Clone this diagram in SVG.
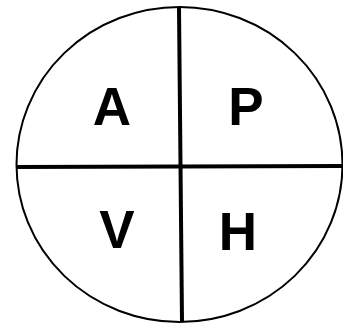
<svg xmlns="http://www.w3.org/2000/svg" width="343" height="326" viewBox="0 0 343 326">
<style>
.ring{fill:none;stroke:#000;stroke-width:2}
.div{stroke:#000;stroke-width:4;fill:none}
.lbl{font-family:"Liberation Sans",Arial,sans-serif;font-weight:bold;font-size:53px;fill:#000;text-anchor:middle}
</style>
<rect width="343" height="326" fill="#fff"/>
<g id="circle"><ellipse class="ring" cx="179.5" cy="164.5" rx="163" ry="157.5"/></g>
<g id="connectors">
<line class="div" x1="179" y1="8" x2="182" y2="322"/>
<line class="div" x1="16" y1="167" x2="342" y2="166"/>
</g>
<g id="A"><text class="lbl" x="112" y="125">A</text></g>
<g id="P"><text class="lbl" x="246" y="125">P</text></g>
<g id="V"><text class="lbl" x="117" y="248">V</text></g>
<g id="H"><text class="lbl" x="238" y="250">H</text></g>
</svg>
